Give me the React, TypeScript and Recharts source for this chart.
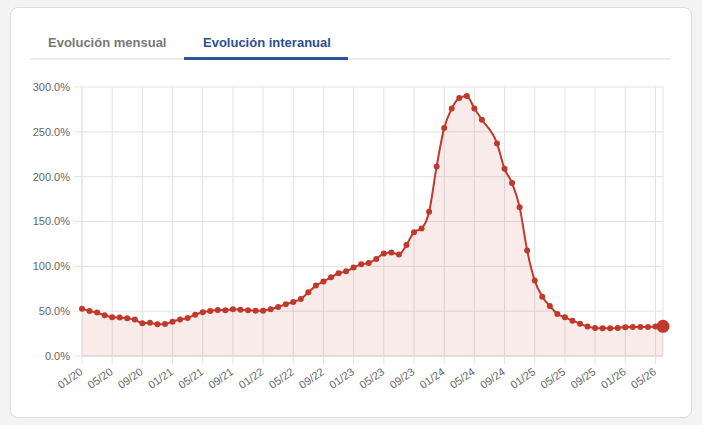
import React from "react";
import { AreaChart, Area, XAxis, YAxis, CartesianGrid } from "recharts";

// month labels 01/20 .. 06/26
const years = ["20", "21", "22", "23", "24", "25", "26"];
const monthNums = ["01", "02", "03", "04", "05", "06", "07", "08", "09", "10", "11", "12"];
const months: string[] = [];
years.forEach((y) => {
  monthNums.forEach((m) => {
    if (y === "26" && Number(m) > 6) return;
    months.push(`${m}/${y}`);
  });
});

// year-on-year change, %
const values: (number | null)[] = [
  52.8, 50.2, 48.4, 45.4, 43.2, 42.8, 42.1, 40.6, 36.5, 37.2, 35.4, 35.7,
  38.3, 40.6, 42.4, 46.1, 48.8, 50.2, 51.4, 51.0, 52.1, 51.7, 51.0, 50.6,
  50.6, 52.1, 54.7, 57.7, 60.3, 63.6, 71.1, 78.5, 83.0, 87.8, 92.3, 94.5,
  98.6, 102.3, 103.8, 108.3, 114.3, 115.4, 113.1, 123.9, 138.1, 142.2, 160.8, 211.4,
  254.2, 276.1, 287.7, 289.9, 276.1, 263.5, null, 237.1, 208.8, 192.8, 166.0, 117.6,
  84.1, 66.2, 55.8, 46.9, 43.2, 39.4, 36.1, 32.8, 31.3, 30.9, 30.9, 31.3,
  32.0, 32.4, 32.4, 32.4, 32.8, 33.1,
];

const xTicks = months.filter((_, i) => i % 4 === 0);
const yTicks = [0, 50, 100, 150, 200, 250, 300];

const data = months.map((m, i) => ({ mes: m, valor: values[i] }));

const RED = "#c0392b";
const FONT = "'Liberation Sans', Arial, Helvetica, sans-serif";

const XTick = (props: any) => {
  const { x, y, payload } = props;
  const ax = x - 3;
  const ay = y;
  return (
    <text
      x={ax}
      y={ay}
      dy="0.71em"
      transform={`rotate(-35, ${ax}, ${ay})`}
      textAnchor="end"
      fontSize={11}
      fontFamily={FONT}
      fill="#666"
    >
      {payload.value}
    </text>
  );
};

const Dot = (props: any) => {
  const { cx, cy, index } = props;
  if (cx == null || cy == null || props.payload?.valor == null) {
    return <g key={`d-${index}`} />;
  }
  const last = index === data.length - 1;
  return <circle key={`d-${index}`} cx={cx} cy={cy} r={last ? 6.5 : 3} fill={RED} stroke="none" />;
};

const App = () => {
  return (
    <div style={{ position: "absolute", left: 0, top: 0, width: 702, height: 425, background: "#f3f3f3", fontFamily: FONT }}>
      <div
        style={{
          position: "absolute",
          left: 10,
          top: 7,
          width: 680,
          height: 409,
          background: "#fff",
          border: "1px solid #dcdcdc",
          borderRadius: 8,
        }}
      />
      {/* tabs */}
      <div style={{ position: "absolute", left: 30, top: 58, width: 641, height: 2, background: "#ececec" }} />
      <div style={{ position: "absolute", left: 48, top: 35, fontSize: 13, fontWeight: 700, color: "#777" }}>
        Evolución mensual
      </div>
      <div style={{ position: "absolute", left: 203, top: 35, fontSize: 13, fontWeight: 700, color: "#2c4f8f" }}>
        Evolución interanual
      </div>
      <div style={{ position: "absolute", left: 184, top: 57, width: 164, height: 3, background: "#2c5496" }} />

      <div style={{ position: "absolute", left: 0, top: 0 }}>
        <AreaChart width={702} height={425} data={data} margin={{ top: 87, right: 39, left: 0, bottom: 0 }}>
          <CartesianGrid stroke="#e2e2e2" strokeWidth={1} />
          <XAxis
            dataKey="mes"
            ticks={xTicks}
            interval={0}
            height={69}
            tickSize={8}
            tickMargin={3}
            tick={<XTick />}
            axisLine={{ stroke: "#d9d0d0" }}
            tickLine={{ stroke: "#e2e2e2" }}
          />
          <YAxis
            domain={[0, 300]}
            ticks={yTicks}
            width={82}
            tickSize={8}
            tickMargin={4}
            tickFormatter={(v: number) => `${v.toFixed(1)}%`}
            tick={{ fontSize: 11, fill: "#666", fontFamily: FONT }}
            axisLine={{ stroke: "#e2e2e2" }}
            tickLine={{ stroke: "#e2e2e2" }}
          />
          <Area
            type="monotone"
            dataKey="valor"
            stroke={RED}
            strokeWidth={2}
            fill="rgba(192, 57, 43, 0.1)"
            fillOpacity={1}
            connectNulls
            dot={Dot}
            activeDot={false}
            isAnimationActive={false}
          />
        </AreaChart>
      </div>
    </div>
  );
};

export default App;
